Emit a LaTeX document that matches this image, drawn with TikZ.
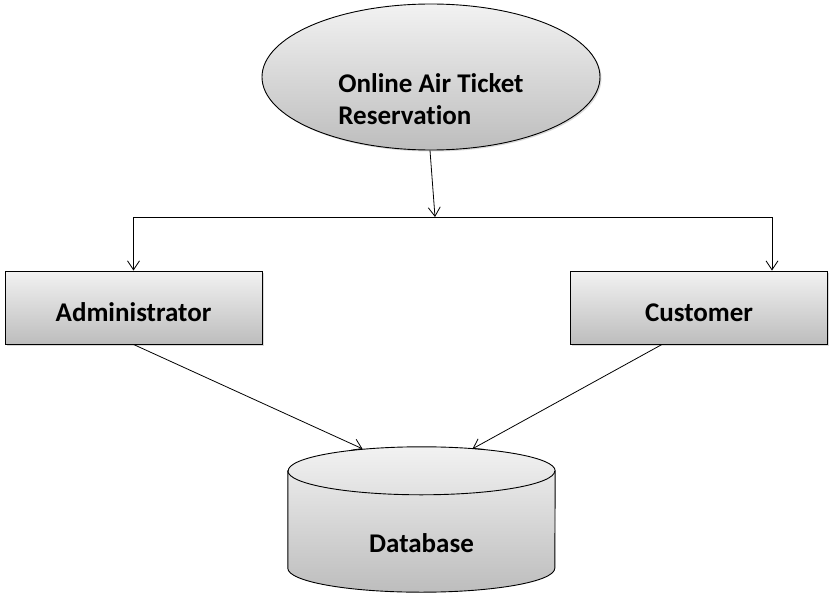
\documentclass[tikz,border=0pt]{standalone}
\usepackage{fontspec}
\setmainfont{Carlito}[Ligatures={NoCommon}]
\usepackage{tikz}
\usetikzlibrary{shapes,arrows.meta,shadows,backgrounds}
\definecolor{shadetop}{HTML}{F2F2F2}
\definecolor{shadebot}{HTML}{BDBDBD}
\tikzstyle{label font} = [font=\bfseries\fontsize{27}{32}\selectfont]
\tikzstyle{block} = [rectangle, draw, line width=0.9pt, top color=shadetop, bottom color=shadebot, minimum width=257pt, minimum height=73pt, text height=28pt, text depth=0pt, label font, drop shadow={shadow xshift=1.5pt, shadow yshift=-1.5pt, opacity=0.3}]
\tikzstyle{cloud} = [ellipse, draw, line width=0.9pt, top color=shadetop, bottom color=shadebot, minimum width=338pt, minimum height=146pt, inner sep=0pt, drop shadow={shadow xshift=1.5pt, shadow yshift=-1.5pt, opacity=0.3}]
\tikzstyle{store} = [rectangle, minimum width=267pt, minimum height=145pt, inner sep=0pt]
\tikzstyle{drum} = [draw, line width=0.9pt, top color=shadetop, bottom color=shadebot]
\tikzstyle{line} = [draw, line width=0.8pt, -{Straight Barb[length=9pt,width=12pt]}]

\begin{document}
\begin{tikzpicture}[x=1pt, y=-1pt]
        \useasboundingbox (0,0) rectangle (833,602);

        % Place nodes
        \node [cloud, label={[label font, align=left, yshift=-22pt]center:Online Air Ticket\\Reservation}] (ticket) at (431,77) {};
        \node [block] (admin) at (133.5,307.5) {Administrator};
        \node [block] (cust) at (699,307.5) {Customer};
        \node [store, label={[label font, yshift=-24pt]center:Database}] (db) at (421.5,519.5) {};
        \coordinate (split) at (435,217);

        % Cylinder behind the database label
        \begin{scope}[on background layer]
            \path [drum] ([yshift=-24pt]db.north west) -- ([yshift=24pt]db.south west)
                arc[start angle=180, end angle=360, x radius=133.5pt, y radius=24pt]
                -- ([yshift=-24pt]db.north east)
                arc[start angle=0, end angle=180, x radius=133.5pt, y radius=24pt] -- cycle;
            \draw [line width=0.9pt] ([yshift=-24pt]db.north west)
                arc[start angle=180, end angle=360, x radius=133.5pt, y radius=24pt];
        \end{scope}

        % Draw edges
        \path [line] ([xshift=-1pt]ticket.south) -- (split);
        \path [line] (split) -| (admin.north);
        \path [line] (split) -| ([xshift=73pt]cust.north);
        \path [line] (admin.south) -- ([xshift=-59pt, yshift=-2pt]db.north);
        \path [line] ([xshift=-37pt]cust.south) -- ([xshift=51pt, yshift=-2pt]db.north);
    \end{tikzpicture}
\end{document}
